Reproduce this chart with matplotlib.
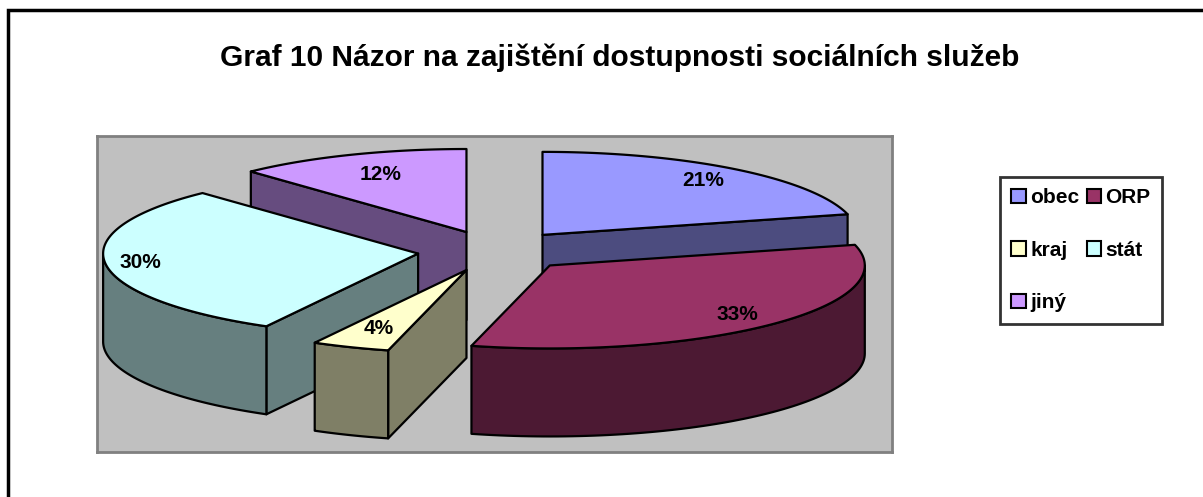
import numpy as np
import matplotlib.pyplot as plt
from matplotlib.patches import Polygon, Rectangle, Patch

# data
labels = ["obec", "ORP", "kraj", "stát", "jiný"]
shares = [21, 33, 4, 30, 12]
pct_labels = ["21%", "33%", "4%", "30%", "12%"]
top_colors = ["#9999FF", "#993366", "#FFFFCC", "#CCFFFF", "#CC99FF"]
side_colors = ["#4C4C7F", "#4C1933", "#7F7F66", "#667F7F", "#664C7F"]
title = "Graf 10 Názor na zajištění dostupnosti sociálních služeb"

plt.rcParams["font.family"] = ["Liberation Sans", "DejaVu Sans"]

# fake 3d look (units of pie radius)
TILT = 83 / 315
DEPTH = 88 / 315
EXPLODE = 0.246
LABEL_R = [0.83, 0.84, 0.76, 0.89, 0.74]
LW = 1.6

W, H = 1203, 497
fig = plt.figure(figsize=(W / 100, H / 100), dpi=100)

# outer chart border (cut off on right and bottom like the original)
fig.add_artist(Rectangle((8 / W, -0.2), 1.2, 1.2 - 10 / H, transform=fig.transFigure,
                         fill=False, edgecolor="black", lw=2.5, clip_on=False))

ax = fig.add_axes([97 / W, 1 - 452 / H, 795 / W, 316 / H])
ax.set_facecolor("#C0C0C0")
for s in ax.spines.values():
    s.set_color("#808080")
    s.set_linewidth(2)
ax.set_xticks([])
ax.set_yticks([])
ax.set_xlim((97 - 495) / 315, (892 - 495) / 315)
ax.set_ylim(-(452 - 251) / 315, (251 - 136) / 315)


def pt(theta, r, off, dz=0.0):
    t = np.radians(theta)
    return off[0] + r * np.sin(t), off[1] + r * np.cos(t) * TILT - dz


total = sum(shares)
edges = np.concatenate([[0], np.cumsum(shares) / total * 360])
slices = []
for i in range(len(shares)):
    a0, a1 = edges[i], edges[i + 1]
    mid = (a0 + a1) / 2
    off = (EXPLODE * np.sin(np.radians(mid)), EXPLODE * np.cos(np.radians(mid)) * TILT)
    slices.append((i, a0, a1, mid, off))

# back to front
slices.sort(key=lambda s: -np.cos(np.radians(s[3])))

for i, a0, a1, mid, off in slices:
    apex = off
    # radial cut faces facing the viewer
    for a, vis in ((a0, np.sin(np.radians(a0)) < -1e-9), (a1, np.sin(np.radians(a1)) > 1e-9)):
        if vis:
            rim = pt(a, 1, off)
            poly = [apex, rim, pt(a, 1, off, DEPTH), (apex[0], apex[1] - DEPTH)]
            ax.add_patch(Polygon(poly, closed=True, facecolor=side_colors[i],
                                 edgecolor="black", lw=LW, joinstyle="round"))
    # outer wall
    lo, hi = max(a0, 90), min(a1, 270)
    if lo < hi:
        th = np.linspace(lo, hi, 80)
        upper = [pt(t, 1, off) for t in th]
        lower = [pt(t, 1, off, DEPTH) for t in th[::-1]]
        ax.add_patch(Polygon(upper + lower, closed=True, facecolor=side_colors[i],
                             edgecolor="black", lw=LW, joinstyle="round"))
    # top face
    th = np.linspace(a0, a1, 120)
    top = [apex] + [pt(t, 1, off) for t in th]
    ax.add_patch(Polygon(top, closed=True, facecolor=top_colors[i],
                         edgecolor="black", lw=LW, joinstyle="round"))
    lx, ly = pt(mid, LABEL_R[i], off)
    ax.text(lx, ly, pct_labels[i], ha="center", va="center",
            fontsize=15, fontweight="bold", zorder=5)

fig.text(620 / W, 1 - 58 / H, title, ha="center", va="center",
         fontsize=21.5, fontweight="bold")

# legend filled row by row: obec ORP / kraj stat / jiny
order = [0, 2, 4, 1, 3]
handles = [Patch(facecolor=top_colors[k], edgecolor="black", lw=1.5) for k in order]
leg = fig.legend(handles, [labels[k] for k in order], ncol=2,
                 loc="upper left", bbox_to_anchor=(1000 / W, 1 - 177 / H),
                 prop={"weight": "bold", "size": 15}, frameon=True, fancybox=False,
                 handlelength=0.7, handleheight=0.7, handletextpad=0.2,
                 columnspacing=0.35, labelspacing=1.6, borderpad=0.55,
                 borderaxespad=0)
leg.get_frame().set_edgecolor("black")
leg.get_frame().set_linewidth(2)

fig.savefig("out.png", dpi=100)
